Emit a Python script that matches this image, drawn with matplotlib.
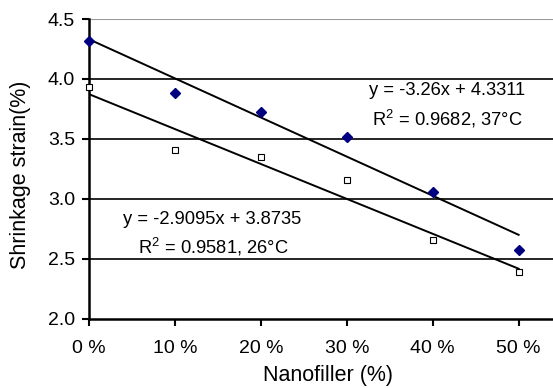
import numpy as np
import matplotlib.pyplot as plt

plt.rcParams['font.family'] = 'Liberation Sans'
plt.rcParams['mathtext.fontset'] = 'custom'
plt.rcParams['mathtext.rm'] = 'Liberation Sans'
plt.rcParams['mathtext.it'] = 'Liberation Sans:italic'

# nanofiller fraction
filler = [0.0, 0.1, 0.2, 0.3, 0.4, 0.5]
tick_labels = ['0 %', '10 %', '20 %', '30 %', '40 %', '50 %']

strain_37 = [4.32, 3.88, 3.725, 3.52, 3.06, 2.575]
strain_26 = [3.93, 3.41, 3.35, 3.16, 2.66, 2.39]

# trendline coefficients (slope, intercept) as printed on the chart
fit_37 = [-3.26, 4.3311]
fit_26 = [-2.9095, 3.8735]

fig = plt.figure(figsize=(5.53, 3.88), dpi=100)
ax = fig.add_axes([0.161, 0.178, 0.839, 0.773])

x = np.array(filler)
ax.plot(x, fit_37[0] * x + fit_37[1], color='black', lw=1.4, zorder=3)
ax.plot(x, fit_26[0] * x + fit_26[1], color='black', lw=1.4, zorder=3)

ax.plot(filler, strain_37, linestyle='none', marker='D', markersize=5.5,
        color='#000080', zorder=4, clip_on=False)
ax.plot(filler, strain_26, linestyle='none', marker='s', markersize=4.8,
        markerfacecolor='white', markeredgecolor='black', markeredgewidth=0.8,
        zorder=4, clip_on=False)

ax.set_xlim(0, 0.54)
ax.set_ylim(2.0, 4.5)
ax.set_xticks(filler)
ax.set_xticklabels(tick_labels)
ax.set_yticks([2.0, 2.5, 3.0, 3.5, 4.0, 4.5])
ax.set_yticklabels(['2.0', '2.5', '3.0', '3.5', '4.0', '4.5'])

for yv in [2.5, 3.0, 3.5, 4.0]:
    ax.axhline(yv, color='black', lw=1.2, zorder=1)
ax.axhline(4.5, color='#999999', lw=1.5, zorder=1)

for s in ['top', 'right']:
    ax.spines[s].set_visible(False)
for s in ['left', 'bottom']:
    ax.spines[s].set_linewidth(1.8)
ax.tick_params(axis='both', direction='out', length=5, width=1.5,
               labelsize=14, pad=10)
ax.tick_params(axis='y', pad=5)

ax.text(0.417, 3.9, 'y = -3.26x + 4.3311', fontsize=13.2, ha='center', va='center')
ax.text(0.417, 3.67, r'R$^2$ = 0.9682, 37°C', fontsize=13.2, ha='center', va='center')
ax.text(0.143, 2.83, 'y = -2.9095x + 3.8735', fontsize=13.2, ha='center', va='center')
ax.text(0.145, 2.60, r'R$^2$ = 0.9581, 26°C', fontsize=13.2, ha='center', va='center')

ax.set_xlabel('Nanofiller (%)', fontsize=15.5, va='center')
ax.set_ylabel('Shrinkage strain(%)', fontsize=15.5)
ax.xaxis.set_label_coords(0.515, -0.19)
ax.yaxis.set_label_coords(-0.125, 0.48)

fig.savefig('out.png', dpi=100)
